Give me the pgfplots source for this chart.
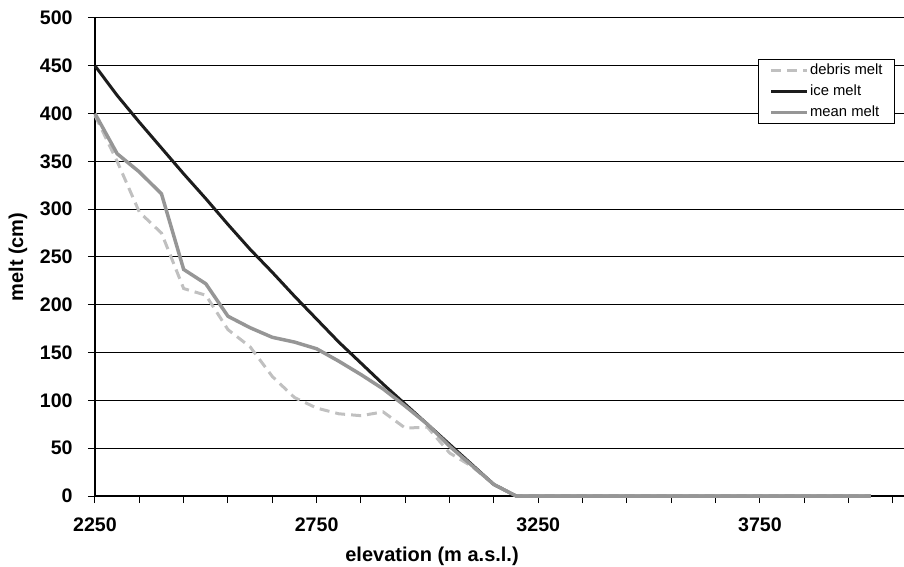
\documentclass[border=0pt]{standalone}
\usepackage{pgfplots}
\pgfplotsset{compat=1.18}
\usepackage{fontspec}
\setmainfont{Liberation Sans}
\definecolor{icec}{RGB}{28,28,28}
\definecolor{meanc}{RGB}{150,150,150}
\definecolor{debc}{RGB}{192,192,192}
\begin{document}
\begin{tikzpicture}
\begin{axis}[
  at={(0,0)}, anchor=south west,
  scale only axis,
  width=404.5pt, height=239pt,
  xmin=2250, xmax=4075,
  ymin=0, ymax=500,
  clip=false,
  axis x line*=bottom, axis y line*=left,
  axis line style={-, black, line width=0.75pt},
  xtick={2250,2750,3250,3750},
  minor xtick={2350,2450,2550,2650,2850,2950,3050,3150,3350,3450,3550,3650,3850,3950,4050},
  ytick={0,50,...,500},
  tick align=outside,
  major tick length=3.5pt, minor tick length=3.5pt,
  every tick/.style={black, line width=0.5pt},
  ymajorgrids,
  major grid style={black, line width=0.5pt},
  /pgf/number format/assume math mode=true,
  /pgf/number format/1000 sep={},
  ticklabel style={font=\bfseries\fontsize{9.8}{11}\selectfont},
  xticklabel style={anchor=north, inner sep=0pt, yshift=-7pt},
  yticklabel style={anchor=east, inner sep=0pt, xshift=-7.5pt},
  xlabel={elevation (m a.s.l.)},
  ylabel={melt (cm)},
  label style={font=\bfseries\fontsize{10}{12}\selectfont},
  xlabel style={at={(axis description cs:0.4166,-0.1067)}, anchor=north, inner sep=0pt},
  ylabel style={at={(axis description cs:-0.0952,0.5)}, anchor=center, inner sep=0pt},
  legend style={at={(rel axis cs:0.9889,0.9142)}, anchor=north east,
    draw=black, line width=0.5pt, fill=white,
    font=\fontsize{7.4}{9}\selectfont,
    inner xsep=5.5pt, inner ysep=1.2pt,
    row sep=1.9pt, column sep=0pt,
    nodes={inner xsep=0.5pt, inner ysep=0.8pt, text height=5.5pt, text depth=1.5pt}},
  legend cell align=left,
  legend image code/.code={\draw[#1] plot coordinates {(0pt,0pt) (9pt,0pt) (18pt,0pt)};},
]
\addplot[debc, line width=1.5pt, dash pattern=on 5pt off 3pt] coordinates {
(2250,398) (2300,350) (2350,297) (2400,275) (2450,217) (2500,210)
(2550,174) (2600,156) (2650,125) (2700,103) (2750,92) (2800,86)
(2850,84) (2900,88) (2950,71) (3000,72) (3050,45) (3100,31)
(3150,12) (3200,0) (4000,0)};
\addlegendentry{debris melt}
\addplot[icec, line width=1.5pt] coordinates {
(2250,450) (2300,419) (2350,391) (2400,364) (2450,337) (2500,311)
(2550,284) (2600,258) (2650,234) (2700,209) (2750,185) (2800,161)
(2850,139) (2900,117) (2950,96) (3000,75) (3050,54) (3100,33)
(3150,12) (3200,0) (4000,0)};
\addlegendentry{ice melt}
\addplot[meanc, line width=1.75pt] coordinates {
(2250,400) (2300,358) (2350,339) (2400,316) (2450,237) (2500,222)
(2550,188) (2600,176) (2650,166) (2700,161) (2750,154) (2800,141)
(2850,127) (2900,112) (2950,94) (3000,75) (3050,52) (3100,32)
(3150,12) (3200,0) (4000,0)};
\addlegendentry{mean melt}
\end{axis}
\pgfresetboundingbox
\path[use as bounding box] (-47.5pt,-35.5pt) rectangle (404.5pt,248pt);
\end{tikzpicture}
\end{document}
